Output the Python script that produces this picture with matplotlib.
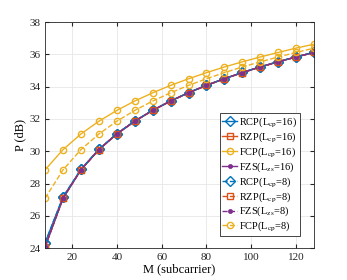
import matplotlib
matplotlib.use("Agg")
import matplotlib.pyplot as plt

plt.rcParams['font.family'] = ['Liberation Serif', 'DejaVu Serif']
plt.rcParams['mathtext.fontset'] = 'stix'

M = [8, 16, 24, 32, 40, 48, 56, 64, 72, 80, 88, 96, 104, 112, 120, 128]

rcp16 = [24.33, 27.17, 28.88, 30.12, 31.09, 31.87, 32.54, 33.12, 33.63, 34.09, 34.50, 34.88, 35.23, 35.55, 35.85, 36.13]
rzp16 = [24.08, 27.09, 28.85, 30.10, 31.07, 31.86, 32.53, 33.11, 33.62, 34.08, 34.49, 34.87, 35.22, 35.54, 35.84, 36.12]
fcp16 = [28.85, 30.10, 31.07, 31.86, 32.53, 33.11, 33.62, 34.08, 34.49, 34.87, 35.22, 35.54, 35.84, 36.12, 36.39, 36.63]
fzs16 = [24.08, 27.09, 28.85, 30.10, 31.07, 31.86, 32.53, 33.11, 33.62, 34.08, 34.49, 34.87, 35.22, 35.54, 35.84, 36.12]
rcp8 = [24.33, 27.17, 28.88, 30.12, 31.09, 31.87, 32.54, 33.12, 33.63, 34.09, 34.50, 34.88, 35.23, 35.55, 35.85, 36.13]
rzp8 = [24.08, 27.09, 28.85, 30.10, 31.07, 31.86, 32.53, 33.11, 33.62, 34.08, 34.49, 34.87, 35.22, 35.54, 35.84, 36.12]
fzs8 = [24.08, 27.09, 28.85, 30.10, 31.07, 31.86, 32.53, 33.11, 33.62, 34.08, 34.49, 34.87, 35.22, 35.54, 35.84, 36.12]
fcp8 = [27.09, 28.85, 30.10, 31.07, 31.86, 32.53, 33.11, 33.62, 34.08, 34.49, 34.87, 35.22, 35.54, 35.84, 36.12, 36.39]

xticks = [20, 40, 60, 80, 100, 120]
yticks = [24, 26, 28, 30, 32, 34, 36, 38]

blue = '#0072BD'
orange = '#D95319'
yellow = '#EDB120'
purple = '#7E2F8E'

fig = plt.figure(figsize=(3.47, 2.80), dpi=100)
ax = fig.add_axes([0.130, 0.114, 0.775, 0.807])

lw = 1.0
ax.plot(M, rcp16, '-', color=blue, lw=lw, marker='D', ms=5, mfc='none', mew=1.0, label=r'RCP(L$_{\rm cp}$=16)')
ax.plot(M, rzp16, '-', color=orange, lw=lw, marker='s', ms=4, mfc='none', mew=1.0, label=r'RZP(L$_{\rm cp}$=16)')
ax.plot(M, fcp16, '-', color=yellow, lw=lw, marker='o', ms=4.5, mfc='none', mew=1.0, label=r'FCP(L$_{\rm cp}$=16)')
ax.plot(M, fzs16, '-', color=purple, lw=lw, marker='o', ms=3, mfc=purple, mew=0.5, label=r'FZS(L$_{\rm zs}$=16)')
ax.plot(M, rcp8, '--', color=blue, lw=lw, marker='D', ms=5, mfc='none', mew=1.0, label=r'RCP(L$_{\rm cp}$=8)')
ax.plot(M, rzp8, '--', color=orange, lw=lw, marker='s', ms=4, mfc='none', mew=1.0, label=r'RZP(L$_{\rm cp}$=8)')
ax.plot(M, fzs8, '--', color=purple, lw=lw, marker='o', ms=3, mfc=purple, mew=0.5, label=r'FZS(L$_{\rm zs}$=8)')
ax.plot(M, fcp8, '--', color=yellow, lw=lw, marker='o', ms=4.5, mfc='none', mew=1.0, label=r'FCP(L$_{\rm cp}$=8)')

ax.set_xlim(8, 128)
ax.set_ylim(24, 38)
ax.set_xticks(xticks)
ax.set_yticks(yticks)
ax.grid(True, color='#e6e6e6', lw=0.6)
ax.set_axisbelow(True)
ax.tick_params(direction='in', length=3, labelsize=8, colors='#262626', top=True, right=True, labeltop=False, labelright=False)
for s in ax.spines.values():
    s.set_color('#262626')
    s.set_linewidth(0.6)
ax.set_xlabel('M (subcarrier)', fontsize=9, labelpad=1)
ax.set_ylabel('P (dB)', fontsize=9, labelpad=2)

leg = ax.legend(loc='lower right', bbox_to_anchor=(0.948, 0.053), fontsize=7.5, frameon=True, fancybox=False,
                edgecolor='#262626', framealpha=1, handlelength=1.45, handletextpad=0.2, labelspacing=0.1,
                borderpad=0.25, borderaxespad=0.0)
leg.get_frame().set_linewidth(0.6)

fig.savefig('out.png', dpi=100)
